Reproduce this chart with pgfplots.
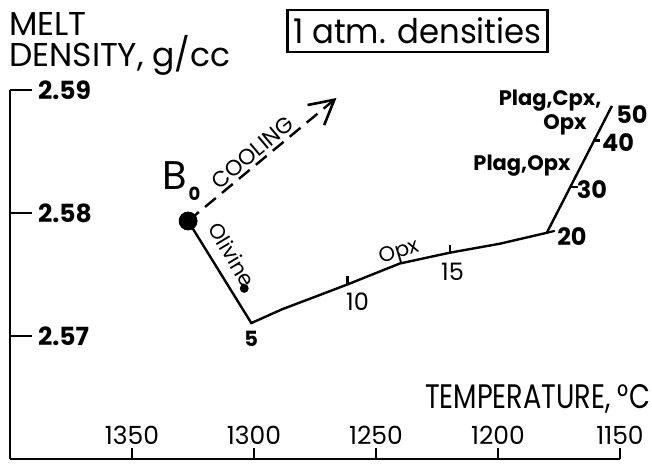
\documentclass[border=0pt]{standalone}
\usepackage{fontspec}
\setmainfont{Poppins}
\usepackage{pgfplots}
\pgfplotsset{compat=1.18}
\usetikzlibrary{arrows.meta}
\newcommand{\fs}[1]{\fontsize{#1}{#1}\selectfont}
\begin{document}
\begin{tikzpicture}
\begin{axis}[
  scale only axis, width=305pt, height=184.5pt,
  x dir=reverse, xmin=1150, xmax=1400, ymin=2.56, ymax=2.59,
  axis lines*=left,
  axis line style={line width=1.4pt, black},
  xtick={1150,1200,1250,1300,1350},
  ytick={2.57,2.58,2.59},
  tick align=inside,
  major tick length=5.5pt,
  tick style={line width=1.3pt, black},
  /pgf/number format/assume math mode=true,
  yticklabel style={anchor=west, xshift=10.5pt, font=\bfseries\fs{12.5},
     /pgf/number format/.cd, fixed, fixed zerofill, precision=2},
  xticklabel style={anchor=south, yshift=3.7pt, font=\fs{12.5},
     /pgf/number format/.cd, 1000 sep={}},
  clip=false,
]
% longer inward y ticks
\addplot[line width=1.3pt, black] coordinates {(1400,2.57) (1391.0,2.57)};
\addplot[line width=1.3pt, black] coordinates {(1400,2.58) (1391.0,2.58)};
\addplot[line width=1.3pt, black] coordinates {(1400,2.59) (1391.0,2.59)};
% main path
\addplot[line width=1.2pt, black] coordinates {
 (1327.0,2.57935) (1301.1,2.57105)
 (1288.4,2.57218) (1274.4,2.57323) (1261.7,2.57419) (1240.3,2.57589)
 (1219.8,2.57677) (1199.3,2.57750) (1180.0,2.57839) (1153.3,2.58871)};
% ticks along the path
\addplot[line width=1.1pt, black] coordinates {(1261.7,2.57419) (1261.7,2.57484)};
\addplot[line width=1.1pt, black] coordinates {(1219.8,2.57677) (1219.8,2.57742)};
\addplot[line width=1.1pt, black] coordinates {(1180.0,2.57839) (1176.7,2.57855)};
\addplot[line width=1.1pt, black] coordinates {(1170.1,2.58210) (1167.2,2.58210)};
\addplot[line width=1.1pt, black] coordinates {(1161.1,2.58589) (1158.2,2.58589)};
% cooling arrow
\addplot[line width=1.2pt, black, dash pattern=on 7pt off 4pt,
  -{Straight Barb[length=12pt, width=13pt, line width=1.3pt]}]
  coordinates {(1327.0,2.57935) (1266.2,2.58935)};
% points
\addplot[only marks, mark=*, mark size=4.5pt, black] coordinates {(1327.0,2.57935)};
\addplot[only marks, mark=*, mark size=2pt, black] coordinates {(1304.0,2.57387)};
% labels
\node[anchor=base west, inner sep=0, font=\fs{16.5}] at (axis cs:1400.5,2.59444) {MELT};
\node[anchor=base west, inner sep=0, font=\fs{16.5}] at (axis cs:1400.5,2.59194) {DENSITY, g/cc};
\node[anchor=base east, inner sep=0, font=\fs{17}] at (axis cs:1137.5,2.56411) {\scalebox{0.8}[1]{TEMPERATURE, °C}};
\node[draw, line width=1.2pt, inner xsep=3pt, inner ysep=4pt, font=\fs{17}] at (axis cs:1233,2.5948) {\scalebox{0.95}[1]{1 atm. densities}};
\node[anchor=base west, inner sep=0, font=\fs{20}] at (axis cs:1337.7,2.58194) {B};
\node[anchor=base west, inner sep=0, font=\bfseries\fs{9}] at (axis cs:1327.0,2.58105) {0};
\node[rotate=40, font=\fs{11}] at (axis cs:1300.7,2.58492) {COOLING};
\node[rotate=-59, font=\fs{10.5}] at (axis cs:1308.9,2.57660) {Olivine};
\node[rotate=17, font=\fs{10.5}] at (axis cs:1240.3,2.57677) {Opx};
\node[font=\bfseries\fs{10.5}] at (axis cs:1301.1,2.56976) {5};
\node[font=\fs{12}] at (axis cs:1257.6,2.57282) {10};
\node[font=\fs{12}] at (axis cs:1218.6,2.57524) {15};
\node[font=\bfseries\fs{12}] at (axis cs:1169.7,2.57806) {20};
\node[font=\bfseries\fs{12}] at (axis cs:1161.5,2.58194) {30};
\node[font=\bfseries\fs{12}] at (axis cs:1150.8,2.58573) {40};
\node[font=\bfseries\fs{12}] at (axis cs:1145.1,2.58798) {50};
\node[font=\bfseries\fs{10.5}] at (axis cs:1190.2,2.58387) {Plag,Opx};
\node[anchor=east, inner sep=0, font=\bfseries\fs{10.5}] at (axis cs:1157.5,2.58911) {Plag,Cpx,};
\node[font=\bfseries\fs{10.5}] at (axis cs:1172.6,2.58718) {Opx};
\end{axis}
\pgfresetboundingbox
\path (-5pt,-5.5pt) rectangle (321pt,229.5pt);
\end{tikzpicture}
\end{document}
